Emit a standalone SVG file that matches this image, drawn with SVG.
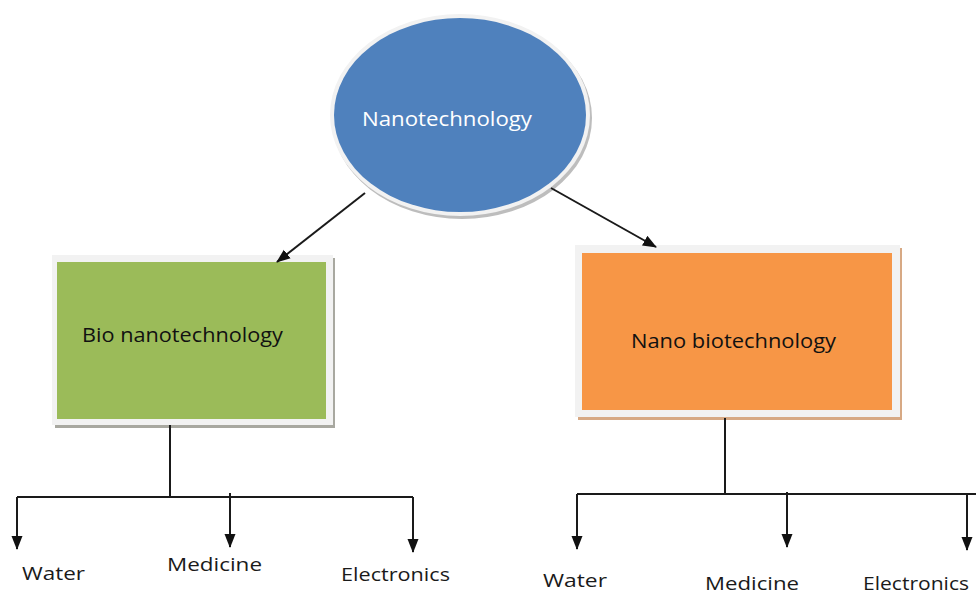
<svg xmlns="http://www.w3.org/2000/svg" width="976" height="598" viewBox="0 0 976 598">
  <style>
    .lbl { font-family: "Open Sans", "Liberation Sans", sans-serif; font-size: 19px; fill: #1a1a1a; }
    .title { font-family: "Open Sans", "Liberation Sans", sans-serif; font-size: 20px; }
    .wire { stroke: #1a1a1a; stroke-width: 2; fill: none; }
  </style>
  <defs>
    <marker id="arrow" viewBox="0 0 14 14" refX="13" refY="7" markerWidth="14" markerHeight="14" markerUnits="userSpaceOnUse" orient="auto">
      <path d="M0,1.5 L14,7 L0,12.5 Z" fill="#111"/>
    </marker>
  </defs>
  <rect width="976" height="598" fill="#ffffff"/>

  <!-- root ellipse -->
  <g id="nanotechnology">
    <ellipse cx="462" cy="118" rx="130" ry="101" fill="#bdbdbd"/>
    <ellipse cx="460" cy="115" rx="130" ry="101" fill="#f2f2f2"/>
    <ellipse cx="460" cy="115" rx="126" ry="97" fill="#4f81bd"/>
    <text class="title" x="447" y="126" text-anchor="middle" fill="#ffffff" textLength="170" lengthAdjust="spacingAndGlyphs">Nanotechnology</text>
  </g>

  <!-- left branch box -->
  <g id="bio-nanotechnology">
    <rect x="55" y="258" width="280" height="170" fill="#a8a8a0"/>
    <rect x="52" y="255" width="281" height="170" fill="#f2f2f2"/>
    <rect x="57" y="262" width="269" height="157" fill="#9bbb59"/>
    <text class="title" x="82" y="342" fill="#111" textLength="201" lengthAdjust="spacingAndGlyphs">Bio nanotechnology</text>
  </g>

  <!-- right branch box -->
  <g id="nano-biotechnology">
    <rect x="578" y="248" width="324" height="172" fill="#d7a984"/>
    <rect x="575" y="245" width="325" height="172" fill="#f2f2f2"/>
    <rect x="582" y="253" width="310" height="157" fill="#f79646"/>
    <text class="title" x="631" y="348" fill="#111" textLength="205" lengthAdjust="spacingAndGlyphs">Nano biotechnology</text>
  </g>

  <!-- leaf labels -->
  <g id="left-water"><text class="lbl" x="22" y="580" textLength="63" lengthAdjust="spacingAndGlyphs">Water</text></g>
  <g id="left-medicine"><text class="lbl" x="167" y="571" textLength="95" lengthAdjust="spacingAndGlyphs">Medicine</text></g>
  <g id="left-electronics"><text class="lbl" x="341" y="581" textLength="109" lengthAdjust="spacingAndGlyphs">Electronics</text></g>
  <g id="right-water"><text class="lbl" x="543" y="587" textLength="64" lengthAdjust="spacingAndGlyphs">Water</text></g>
  <g id="right-medicine"><text class="lbl" x="705" y="590" textLength="94" lengthAdjust="spacingAndGlyphs">Medicine</text></g>
  <g id="right-electronics"><text class="lbl" x="863" y="590" textLength="106" lengthAdjust="spacingAndGlyphs">Electronics</text></g>

  <!-- connectors -->
  <g id="connectors">
    <line class="wire" x1="365" y1="193" x2="277" y2="262" marker-end="url(#arrow)"/>
    <line class="wire" x1="551" y1="188" x2="656" y2="247" marker-end="url(#arrow)"/>

    <!-- left tree -->
    <polyline class="wire" points="170,425 170,497"/>
    <polyline class="wire" points="17,497 413,497"/>
    <line class="wire" x1="17" y1="497" x2="17" y2="549" marker-end="url(#arrow)"/>
    <line class="wire" x1="230" y1="493" x2="230" y2="547" marker-end="url(#arrow)"/>
    <line class="wire" x1="413" y1="497" x2="413" y2="552" marker-end="url(#arrow)"/>

    <!-- right tree -->
    <polyline class="wire" points="725,418 725,494"/>
    <polyline class="wire" points="577,494 976,494"/>
    <line class="wire" x1="577" y1="494" x2="577" y2="549" marker-end="url(#arrow)"/>
    <line class="wire" x1="787" y1="492" x2="787" y2="547" marker-end="url(#arrow)"/>
    <line class="wire" x1="967" y1="494" x2="967" y2="550" marker-end="url(#arrow)"/>
  </g>
</svg>
